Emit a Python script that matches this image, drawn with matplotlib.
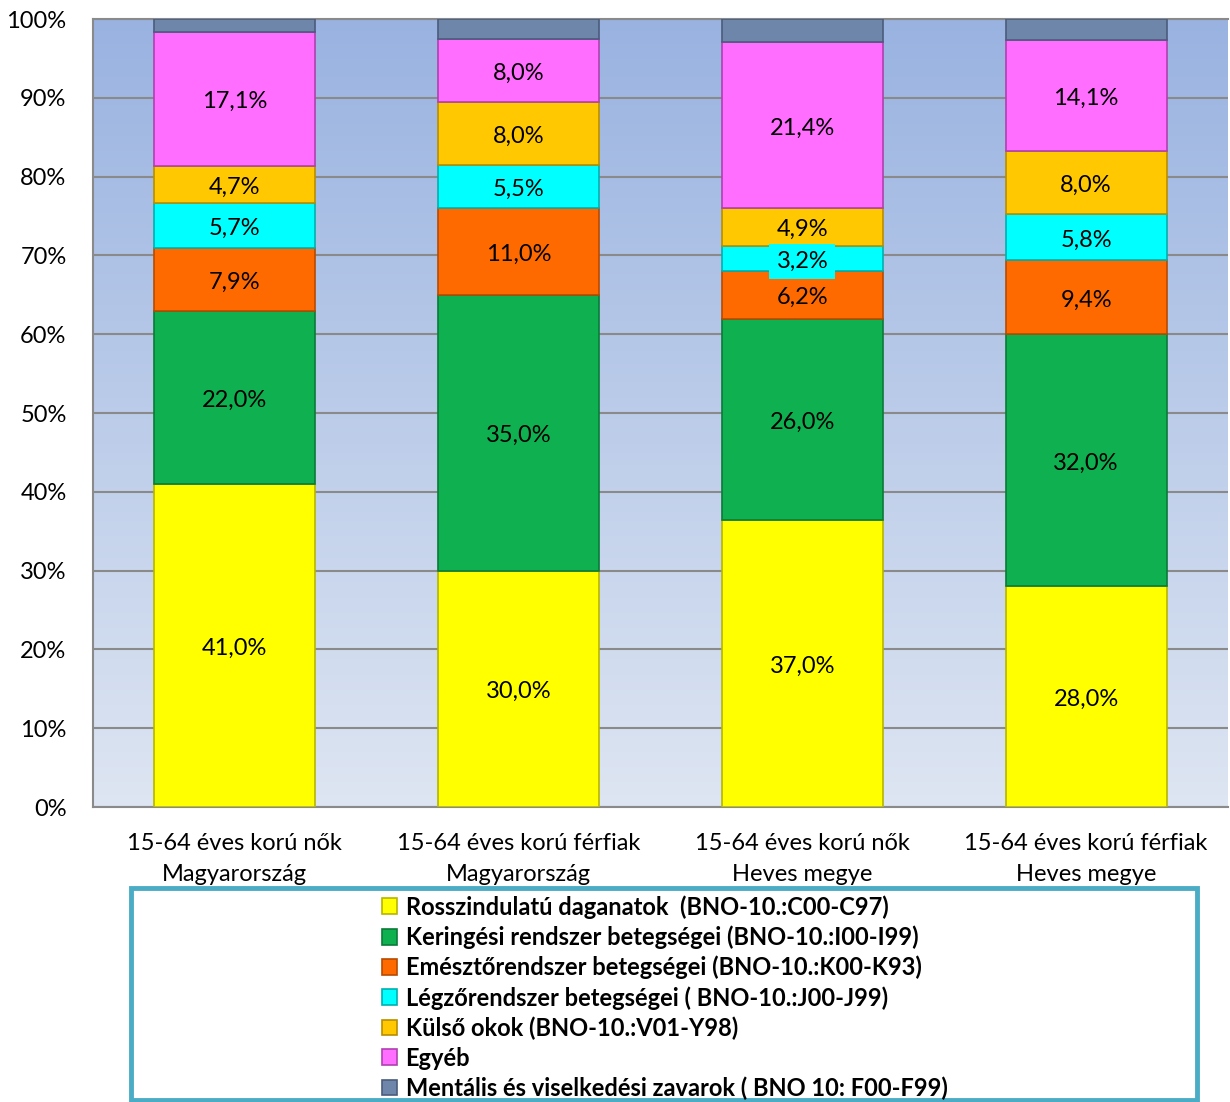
import numpy as np
import matplotlib
matplotlib.use("Agg")
import matplotlib.pyplot as plt
from matplotlib.patches import Rectangle
from matplotlib.ticker import FixedLocator, FuncFormatter

plt.rcParams['font.family'] = ['Lato', 'DejaVu Sans']

categories = [
    "15-64 éves korú nők\nMagyarország",
    "15-64 éves korú férfiak\nMagyarország",
    "15-64 éves korú nők\nHeves megye",
    "15-64 éves korú férfiak\nHeves megye",
]

series_names = [
    "Rosszindulatú daganatok  (BNO-10.:C00-C97)",
    "Keringési rendszer betegségei (BNO-10.:I00-I99)",
    "Emésztőrendszer betegségei (BNO-10.:K00-K93)",
    "Légzőrendszer betegségei ( BNO-10.:J00-J99)",
    "Külső okok (BNO-10.:V01-Y98)",
    "Egyéb",
    "Mentális és viselkedési zavarok ( BNO 10: F00-F99)",
]

daganatok = [41.0, 30.0, 37.0, 28.0]
keringesi = [22.0, 35.0, 26.0, 32.0]
emeszto = [7.9, 11.0, 6.2, 9.4]
legzo = [5.7, 5.5, 3.2, 5.8]
kulso = [4.7, 8.0, 4.9, 8.0]
egyeb = [17.1, 8.0, 21.4, 14.1]
mentalis = [1.6, 2.5, 3.0, 2.7]

colors = ["#ffff00", "#0fb050", "#ff6a00", "#00ffff", "#ffc800", "#ff6eff", "#6f86ab"]
edges = ["#b5b500", "#0a7a38", "#b84a00", "#00b0b0", "#b88e00", "#b040b0", "#4a5c7a"]
label_boxes = [None, None, None, "#00ffff", None, None, None]

data = np.array([daganatok, keringesi, emeszto, legzo, kulso, egyeb, mentalis])
totals = data.sum(axis=0)
shares = data / totals * 100.0

W, H = 1230, 1102
fig = plt.figure(figsize=(W / 100, H / 100), dpi=100)

ax = fig.add_axes([93 / W, (H - 807) / H, 1135 / W, 788 / H])

# vertical gradient background of the plot area
grad = np.linspace(0, 1, 256).reshape(-1, 1)
top = np.array([0.60, 0.70, 0.88])
bottom = np.array([0.87, 0.90, 0.95])
img = bottom + (top - bottom) * grad
ax.imshow(img[:, None, :].repeat(2, axis=1), aspect='auto',
          extent=[-0.5, 3.5, 0, 100], origin='lower', zorder=0)

x = np.arange(len(categories))
bar_w = 0.567
bottoms = np.zeros(len(categories))
for i in range(len(series_names)):
    ax.bar(x, shares[i], bottom=bottoms, width=bar_w, color=colors[i],
           edgecolor=edges[i], linewidth=1.2, label=series_names[i], zorder=3)
    if i < 6:
        for j in range(len(categories)):
            txt = f"{data[i, j]:.1f}".replace(".", ",") + "%"
            kw = {}
            if label_boxes[i]:
                kw['bbox'] = dict(boxstyle='square,pad=0.3', fc=label_boxes[i], ec='none')
            ax.annotate(txt, (x[j], bottoms[j] + shares[i, j] / 2),
                        xytext=(0, -2), textcoords='offset points',
                        ha='center', va='center', fontsize=17, color='black',
                        zorder=5, **kw)
    bottoms += shares[i]

ax.set_xlim(-0.5, 3.5)
ax.set_ylim(0, 100)
ax.yaxis.set_major_locator(FixedLocator(np.arange(0, 101, 10)))
ax.yaxis.set_major_formatter(FuncFormatter(lambda v, p: f"{int(v)}%"))
ax.grid(axis='y', color='#8a8a8a', linewidth=1.5, zorder=1)
ax.set_axisbelow(True)
ax.set_xticks(x)
ax.set_xticklabels(categories, fontsize=17, linespacing=1.55)
ax.tick_params(axis='y', labelsize=17, length=0, pad=19)
ax.tick_params(axis='x', length=0, pad=19)
for s in ['left', 'bottom', 'top']:
    ax.spines[s].set_color('#8a8a8a')
    ax.spines[s].set_linewidth(1.5)
ax.spines['right'].set_visible(False)

# legend panel
fig.patches.append(Rectangle((131 / W, 2 / H), 1066 / W, (H - 890) / H,
                             transform=fig.transFigure, fill=False,
                             ec='#4bacc6', lw=3.5))
handles, labels = ax.get_legend_handles_labels()
leg = fig.legend(handles, labels, loc='upper left',
                 bbox_to_anchor=(382 / W, (H - 895) / H),
                 frameon=False, fontsize=17, handlelength=0.65, handleheight=0.65,
                 handletextpad=0.35, labelspacing=0.285, borderpad=0, borderaxespad=0)
for t in leg.get_texts():
    t.set_fontweight('bold')

fig.savefig("out.png", dpi=100)
